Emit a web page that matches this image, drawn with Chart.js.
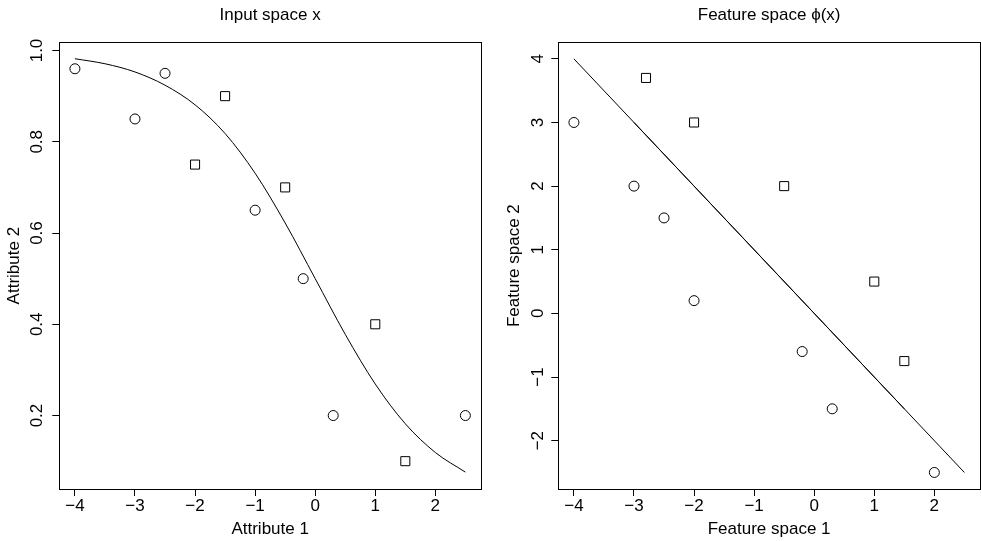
<!DOCTYPE html>
<html>
<head>
<meta charset="utf-8">
<script src="https://cdn.jsdelivr.net/npm/chart.js@4.4.1/dist/chart.umd.min.js"></script>
<style>
  html, body { margin: 0; padding: 0; background: #fff; overflow: hidden; width: 981px; height: 541px; }
  .panel { position: absolute; top: 0; }
</style>
</head>
<body>
<div class="panel" style="left:0"><canvas id="inputChart" width="490" height="541"></canvas></div>
<div class="panel" style="left:490px"><canvas id="featureChart" width="500" height="541"></canvas></div>
<script>
// tick labels
const xTicks = [-4, -3, -2, -1, 0, 1, 2];
const inputYTicks = [0.2, 0.4, 0.6, 0.8, 1.0];
const featureYTicks = [-2, -1, 0, 1, 2, 3, 4];

// left panel: input space
const inputCircleX = [-4, -3, -2.5, -1, -0.2, 0.3, 2.5];
const inputCircleY = [0.96, 0.85, 0.95, 0.65, 0.5, 0.2, 0.2];
const inputSquareX = [-2, -1.5, -0.5, 1, 1.5];
const inputSquareY = [0.75, 0.9, 0.7, 0.4, 0.1];
const curveX = [-4, -3.5, -3, -2.5, -2, -1.5, -1, -0.5, 0, 0.5, 1, 1.5, 2, 2.5];
const curveY = [0.982, 0.971, 0.953, 0.924, 0.881, 0.818, 0.731, 0.622, 0.5, 0.378, 0.269, 0.182, 0.119, 0.076];

// right panel: feature space
const featureCircleX = [-4, -3, -2.5, -2, -0.2, 0.3, 2];
const featureCircleY = [3, 2, 1.5, 0.2, -0.6, -1.5, -2.5];
const featureSquareX = [-2.8, -2, -0.5, 1, 1.5];
const featureSquareY = [3.7, 3, 2, 0.5, -0.75];
const boundaryX = [-4, 2.5];
const boundaryY = [4, -2.5];
const overlapX = [-3, 1.5];
const overlapY = [3, -1.5];

const FONT = { family: "'Liberation Sans', Arial, sans-serif", size: 17 };
const minus = (v) => String(v).replace("-", "\u2212");
const toPoints = (xs, ys) => xs.map((x, i) => ({ x: x, y: ys[i] }));

const circles = (xs, ys) => ({
  data: toPoints(xs, ys),
  pointStyle: "circle",
  pointRadius: 5,
  pointBorderWidth: 1,
  pointBorderColor: "#000",
  pointBackgroundColor: "rgba(0,0,0,0)",
  showLine: false,
});
const squares = (xs, ys) => ({
  data: toPoints(xs, ys),
  pointStyle: "rect",
  pointRadius: 6.4,
  pointBorderWidth: 1,
  pointBorderColor: "#000",
  pointBackgroundColor: "rgba(0,0,0,0)",
  showLine: false,
});
const line = (xs, ys, smooth) => ({
  data: toPoints(xs, ys),
  showLine: true,
  pointRadius: 0,
  borderColor: "#000",
  borderWidth: 1,
  cubicInterpolationMode: smooth ? "monotone" : "default",
});

const makeChart = (id, p) => {
  new Chart(document.getElementById(id), {
    type: "scatter",
    data: { datasets: p.datasets },
    options: {
      responsive: false,
      animation: false,
      devicePixelRatio: 1,
      layout: { padding: 0 },
      plugins: { legend: { display: false }, tooltip: { enabled: false } },
      scales: {
        x: {
          type: "linear",
          position: "bottom",
          min: -4.26,
          max: 2.76,
          afterBuildTicks: (s) => { s.ticks = xTicks.map((v) => ({ value: v })); },
          afterFit: (s) => { s.height = 52; },
          grid: { drawOnChartArea: false, drawTicks: true, tickLength: 7, color: "#000", lineWidth: 1 },
          border: { display: true, color: "#000", width: 1 },
          ticks: { font: FONT, color: "#000", padding: 0, maxRotation: 0, callback: minus },
          title: { display: true, text: p.xTitle, font: FONT, color: "#000", padding: { top: 0, bottom: 1 } },
        },
        y: {
          type: "linear",
          position: "left",
          min: p.yMin,
          max: p.yMax,
          afterBuildTicks: (s) => { s.ticks = p.yTicks.map((v) => ({ value: v })); },
          afterFit: (s) => { s.width = p.left; },
          grid: { drawOnChartArea: false, drawTicks: true, tickLength: 7, color: "#000", lineWidth: 1 },
          border: { display: true, color: "#000", width: 1 },
          ticks: {
            font: FONT, color: "#000", minRotation: 90, maxRotation: 90,
            crossAlign: "center", padding: p.tickPad, callback: p.yFormat,
          },
          title: { display: true, text: p.yTitle, font: FONT, color: "#000", padding: { top: p.titlePad, bottom: 0 } },
        },
        x2: {
          type: "linear",
          position: "top",
          min: -4.26,
          max: 2.76,
          afterFit: (s) => { s.height = 42.3; },
          grid: { display: false },
          border: { display: true, color: "#000", width: 1 },
          ticks: { display: false },
          title: { display: true, text: p.title, font: FONT, color: "#000", padding: { top: 4.8, bottom: 0 } },
        },
        y2: {
          type: "linear",
          position: "right",
          min: p.yMin,
          max: p.yMax,
          afterFit: (s) => { s.width = p.right; },
          grid: { display: false },
          border: { display: true, color: "#000", width: 1 },
          ticks: { display: false },
        },
      },
    },
  });
};

makeChart("inputChart", {
  title: "Input space x",
  xTitle: "Attribute 1",
  yTitle: "Attribute 2",
  yMin: 0.039,
  yMax: 1.018,
  yTicks: inputYTicks,
  yFormat: (v) => v.toFixed(1),
  left: 59.3,
  right: 9,
  tickPad: 2.7,
  titlePad: 3.8,
  datasets: [
    line(curveX, curveY, true),
    circles(inputCircleX, inputCircleY),
    squares(inputSquareX, inputSquareY),
  ],
});

// canvas runs past the window edge so the box can reach x=980
makeChart("featureChart", {
  title: "Feature space \u03d5(x)",
  xTitle: "Feature space 1",
  yTitle: "Feature space 2",
  yMin: -2.76,
  yMax: 4.26,
  yTicks: featureYTicks,
  yFormat: minus,
  left: 68.3,
  right: 10,
  tickPad: 3.1,
  titlePad: 14,
  datasets: [
    line(boundaryX, boundaryY, false),
    line(overlapX, overlapY, false),
    circles(featureCircleX, featureCircleY),
    squares(featureSquareX, featureSquareY),
  ],
});
</script>
</body>
</html>
